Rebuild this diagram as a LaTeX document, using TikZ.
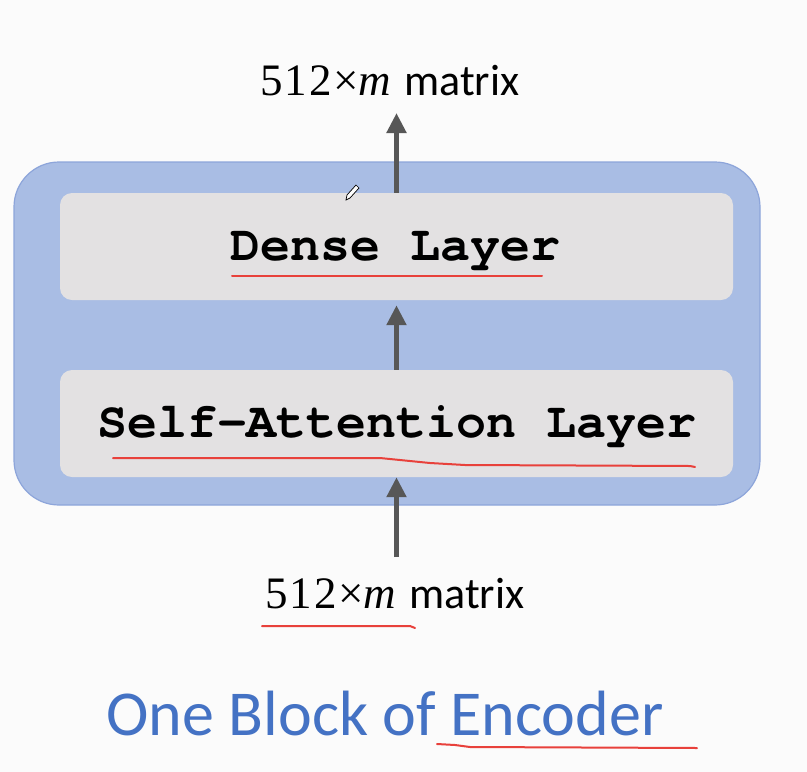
\documentclass[tikz,border=0pt]{standalone}
\usepackage[no-math]{fontspec}
\setmainfont{Carlito}
\setmonofont{TeX Gyre Cursor}
\newfontfamily\mathlike[LetterSpace=4]{Liberation Serif}
\usetikzlibrary{arrows.meta}
\definecolor{bgc}{HTML}{FBFBFB}
\definecolor{encfill}{HTML}{A9BDE4}
\definecolor{encline}{HTML}{8DA5DA}
\definecolor{layfill}{HTML}{E3E1E2}
\definecolor{arrc}{HTML}{575757}
\definecolor{redu}{HTML}{E8413B}
\definecolor{titleblue}{HTML}{4472C4}
\newcommand{\mtxlabel}{{\mathlike\fontsize{45}{50}\selectfont 512×\textit{m}}\hspace{11pt}matrix}
\tikzset{
  encbox/.style={fill=encfill, draw=encline, line width=1.2pt, rounded corners=45pt,
    minimum width=746pt, minimum height=343pt, inner sep=0pt},
  laybox/.style={fill=layfill, rounded corners=12pt, minimum width=673pt,
    minimum height=107pt, inner sep=0pt},
  laytext/.style={font=\ttfamily\bfseries\fontsize{50}{60}\selectfont, anchor=base, inner sep=0pt},
  arr/.style={draw=arrc, line width=5pt, -{Triangle[width=19pt,length=20pt]}},
  lbl/.style={font=\fontsize{44}{50}\selectfont, inner sep=0pt, anchor=base},
  redline/.style={draw=redu, line width=2pt, line cap=round, line join=round},
}
\begin{document}
\begin{tikzpicture}[x=1pt,y=-1pt]
\fill[bgc] (0,0) rectangle (807,772);
\useasboundingbox (0,0) rectangle (807,772);
\node[encbox] (enc) at (387,333.5) {};
\node[laybox] (dense) at (396.5,246.5) {};
\node[laybox] (self) at (396.5,423.5) {};
\node[laytext] (denset) at (395,260) {Dense Layer};
\node[laytext] (selft) at (397,437) {Self-Attention Layer};
\node[lbl] (outl) at (390,95) {\mtxlabel};
\node[lbl] (inl) at (395,608) {\mtxlabel};
\node[font=\fontsize{64}{72}\selectfont, text=titleblue, anchor=base, inner sep=0pt] (title) at (385,735) {One Block of Encoder};
\coordinate (outtip) at (396.5,113);
\coordinate (instart) at (396.5,557);
\draw[arr] (dense.north) -- (outtip);
\draw[arr, shorten >=5pt] (self.north) -- (dense.south);
\draw[arr] (instart) -- (self.south);
% red hand-drawn underlines
\draw[redline] (232,276) -- (542,276);
\draw[redline] (113,458) -- (380,458) -- (400,460) -- (430,463) -- (465,465) -- (690,466) -- (695,467);
\draw[redline] (262,626) -- (410,626) -- (415,628);
\draw[redline] (437,744) -- (455,745) -- (470,747) -- (697,748);
% pencil cursor
\draw[black, line width=0.7pt, fill=white] (346,200) -- (347,195) -- (356,185) -- (359,188) -- (350,198) -- cycle;
\end{tikzpicture}
\end{document}
